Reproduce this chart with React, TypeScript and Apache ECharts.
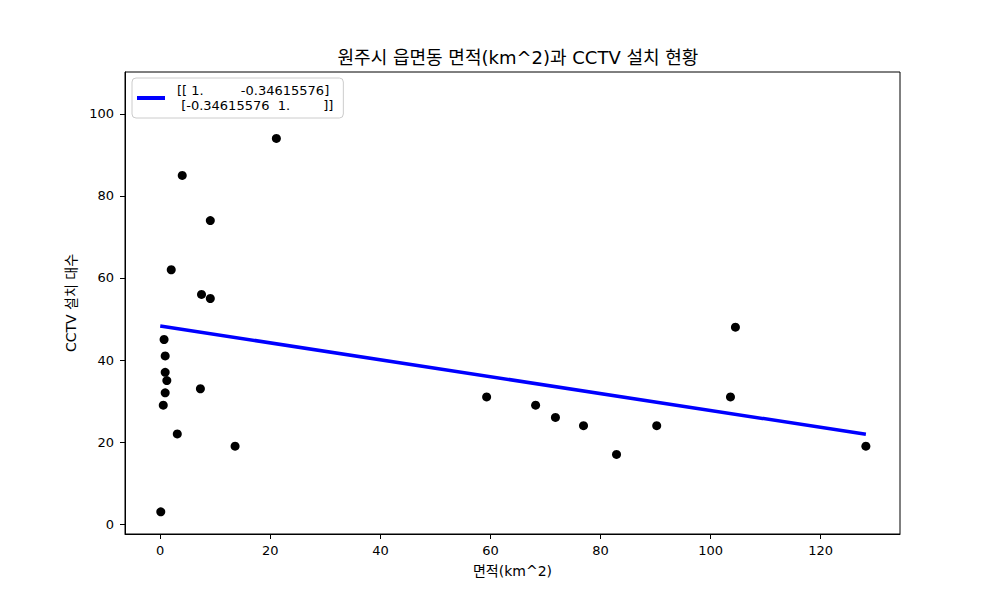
import { useEffect, useRef } from 'react'
import * as echarts from 'echarts'

// 읍면동별 면적(km^2) / CCTV 설치 대수
const areaKm2 = [
  0.1, 0.55, 0.9, 1.2, 0.9, 0.9, 0.7, 2.0, 3.1, 4.0, 7.5, 7.3, 9.1, 9.1, 13.6, 21.1,
  59.3, 68.2, 71.8, 76.9, 82.9, 90.2, 103.6, 104.5, 128.2,
]
const cctvCount = [
  3, 29, 32, 35, 37, 41, 45, 62, 22, 85, 56, 33, 55, 74, 19, 94,
  31, 29, 26, 24, 17, 24, 31, 48, 19,
]

// fitted line endpoints
const fitX = [0, 128.2]
const fitY = [48.3, 21.9]

const corrLabel =
  '[[ 1.         -0.34615576]\n [-0.34615576  1.        ]]'.replace(/ /g, '\u00a0')

const xTicks = [0, 20, 40, 60, 80, 100, 120]
const yTicks = [0, 20, 40, 60, 80, 100]

const FONT = '"DejaVu Sans", "Noto Sans CJK KR", sans-serif'

export default function App() {
  const chartRef = useRef<HTMLDivElement>(null)

  useEffect(() => {
    if (!chartRef.current) return
    const chart = echarts.init(chartRef.current, null, { renderer: 'svg' })

    chart.setOption({
      animation: false,
      backgroundColor: '#ffffff',
      textStyle: { fontFamily: FONT },
      title: {
        text: '원주시 읍면동 면적(km^2)과 CCTV 설치 현황',
        left: 513,
        textAlign: 'center',
        top: 43,
        textStyle: { fontSize: 18, fontWeight: 'normal', color: '#000', fontFamily: FONT },
      },
      legend: {
        left: 132,
        top: 78,
        orient: 'vertical',
        padding: [5, 10, 5, 5],
        backgroundColor: 'rgba(255,255,255,0.8)',
        borderColor: '#cccccc',
        borderWidth: 1,
        borderRadius: 4,
        itemWidth: 28,
        itemHeight: 4,
        data: [{ name: corrLabel, icon: 'rect' }],
        textStyle: {
          fontSize: 13,
          lineHeight: 15,
          color: '#000',
          fontFamily: FONT,
          padding: [0, 0, 0, 7],
        },
      },
      grid: {
        left: 125,
        right: 100,
        top: 72,
        bottom: 66,
        show: true,
        borderColor: '#000',
        borderWidth: 1,
        containLabel: false,
      },
      xAxis: {
        type: 'value',
        min: -6.4,
        max: 134.4,
        name: '면적(km^2)',
        nameLocation: 'middle',
        nameGap: 30,
        nameTextStyle: { fontSize: 14, color: '#000', fontFamily: FONT },
        axisLine: { show: true, onZero: false, lineStyle: { color: '#000', width: 1 } },
        axisTick: {
          show: true,
          length: 5,
          lineStyle: { color: '#000' },
          customValues: xTicks,
        },
        axisLabel: {
          fontSize: 13,
          color: '#000',
          margin: 10,
          customValues: xTicks,
          fontFamily: FONT,
        },
        splitLine: { show: false },
      },
      yAxis: {
        type: 'value',
        min: -2.4,
        max: 110.2,
        name: 'CCTV 설치 대수',
        nameLocation: 'middle',
        nameGap: 42,
        nameRotate: 90,
        nameTextStyle: { fontSize: 14, color: '#000', fontFamily: FONT },
        axisLine: { show: true, onZero: false, lineStyle: { color: '#000', width: 1 } },
        axisTick: {
          show: true,
          length: 5,
          lineStyle: { color: '#000' },
          customValues: yTicks,
        },
        axisLabel: {
          fontSize: 13,
          color: '#000',
          margin: 11,
          customValues: yTicks,
          fontFamily: FONT,
        },
        splitLine: { show: false },
      },
      series: [
        {
          name: 'points',
          type: 'scatter',
          symbolSize: 9,
          itemStyle: { color: '#000', opacity: 1 },
          data: areaKm2.map((x, i) => [x, cctvCount[i]]),
          z: 2,
        },
        {
          name: corrLabel,
          type: 'line',
          showSymbol: false,
          lineStyle: { color: '#0000ff', width: 3.5 },
          itemStyle: { color: '#0000ff' },
          data: fitX.map((x, i) => [x, fitY[i]]),
          z: 3,
        },
      ],
    })

    return () => {
      chart.dispose()
    }
  }, [])

  return (
    <div
      ref={chartRef}
      style={{ position: 'absolute', left: 0, top: 0, width: '1000px', height: '600px' }}
    ></div>
  )
}
